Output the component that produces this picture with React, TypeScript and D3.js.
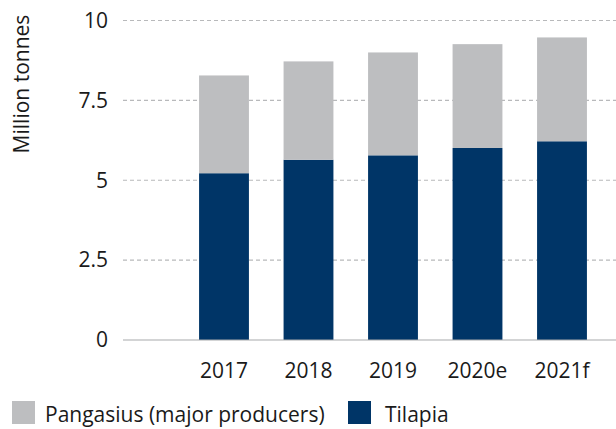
import React from 'react';
import * as d3 from 'd3';

const years = ['2017', '2018', '2019', '2020e', '2021f'];
const tilapia = [5.22, 5.64, 5.78, 6.01, 6.22];
const pangasius = [3.06, 3.08, 3.22, 3.25, 3.25];
const yTicks = [0, 2.5, 5, 7.5, 10];
const yTickLabels = ['0', '2.5', '5', '7.5', '10'];

const W = 616;
const H = 429;
const NAVY = '#003567';
const GREY = '#bdbec0';
const FONT = '"Open Sans", sans-serif';
const FS = 21;

const App: React.FC = () => {
  const x = d3.scaleBand<string>()
    .domain(years)
    .range([181.75, 604.25])
    .paddingInner(0.41)
    .paddingOuter(0.205);

  const y = d3.scaleLinear().domain([0, 10]).range([340, 20.5]);

  const rows = years.map((yr, i) => ({ year: yr, tilapia: tilapia[i], pangasius: pangasius[i] }));
  const stacked = d3.stack<any>().keys(['tilapia', 'pangasius'])(rows);
  const colors: Record<string, string> = { tilapia: NAVY, pangasius: GREY };

  return (
    <svg width={W} height={H} style={{ position: 'absolute', left: 0, top: 0, background: '#fff' }}
      fontFamily={FONT}>
      {/* grid */}
      {yTicks.filter(t => t > 0).map(t => (
        <line key={t} x1={123} x2={616} y1={y(t)} y2={y(t)}
          stroke="#b8b9bb" strokeWidth={1.2} strokeDasharray="4,3" />
      ))}

      {/* bars */}
      {stacked.map(layer => (
        <g key={layer.key} fill={colors[layer.key]}>
          {layer.map((d: any, i: number) => (
            <rect key={i} x={x(years[i])} width={x.bandwidth()}
              y={y(d[1])} height={y(d[0]) - y(d[1])} />
          ))}
        </g>
      ))}

      {/* baseline */}
      <line x1={123} x2={616} y1={y(0)} y2={y(0)} stroke="#a7a9ac" strokeWidth={1.2} />

      {/* y tick labels */}
      {yTicks.map((t, i) => (
        <text key={t} x={108} y={y(t)} dy="0.35em" textAnchor="end" fontSize={FS} fill="#1a1a1a">
          {yTickLabels[i]}
        </text>
      ))}

      {/* x labels */}
      {years.map(yr => (
        <text key={yr} x={(x(yr) as number) + x.bandwidth() / 2} y={378} textAnchor="middle"
          fontSize={FS} fill="#1a1a1a">{yr}</text>
      ))}

      {/* y title */}
      <text transform="translate(29,84) rotate(-90)" textAnchor="middle" fontSize={FS} fill="#1a1a1a">
        Million tonnes
      </text>

      {/* legend */}
      <rect x={12} y={401} width={23} height={23} fill={GREY} />
      <text x={45} y={422} fontSize={FS} fill="#1a1a1a">Pangasius (major producers)</text>
      <rect x={348} y={401} width={23} height={23} fill={NAVY} />
      <text x={385} y={422} fontSize={FS} fill="#1a1a1a">Tilapia</text>
    </svg>
  );
};

export default App;
